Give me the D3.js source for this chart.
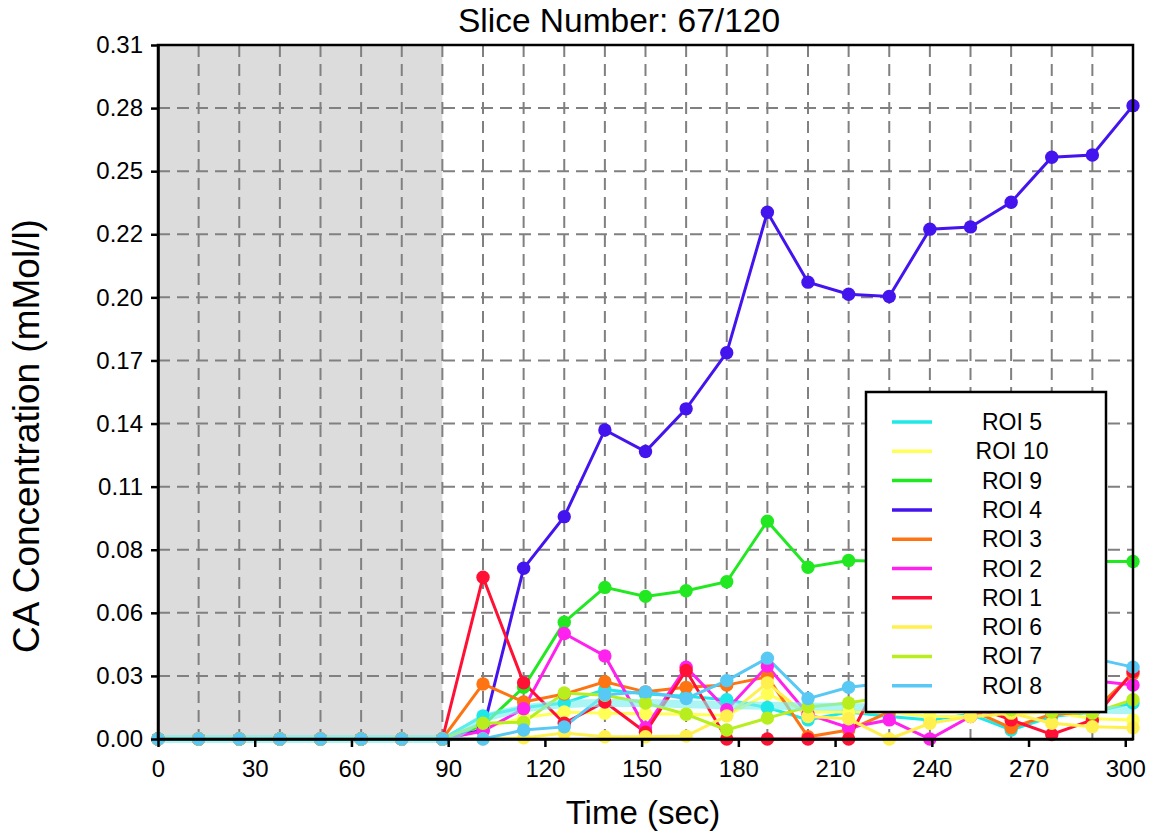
<!DOCTYPE html>
<html>
<head>
<meta charset="utf-8">
<script src="https://cdn.jsdelivr.net/npm/d3@7"></script>
<style>
  body { margin: 0; background: #fff; }
  svg { display: block; font-family: "Liberation Sans", Arial, Helvetica, sans-serif; }
  .axis path, .axis line { stroke: #000; stroke-width: 2.5; }
  .axis text { fill: #000; font-size: 24px; }
  .grid line { stroke: #808080; stroke-width: 2; stroke-dasharray: 12,7; }
</style>
</head>
<body>
<svg id="chart" width="1152" height="834"></svg>
<script>
// acquisition times (sec), one per dynamic frame
var times = [0, 12.6, 25.2, 37.8, 50.4, 63, 75.6, 88.2, 100.8, 113.4, 126, 138.6, 151.2,
             163.8, 176.4, 189, 201.6, 214.2, 226.8, 239.4, 252, 264.6, 277.2, 289.8, 302.4];
var xTicks = [0, 30, 60, 90, 120, 150, 180, 210, 240, 270, 300];
var yMax = 0.309;
var baselineEnd = 88.2;   // end of the pre-contrast (grey) period

// concentration curves, mMol/l
var roi5  = [0,0,0,0,0,0,0,0, 0.0103, 0.014, 0.016, 0.022, 0.020, 0.019, 0.0175, 0.014, 0.0085, 0.012, 0.010, 0.0085, 0.011, 0.004, 0.010, 0.012, 0.016];
var roi10 = [0,0,0,0,0,0,0,0, 0.005, 0.0094, 0.012, 0.0115, 0.0112, 0.011, 0.0105, 0.020, 0.012, 0.012, 0.012, 0.010, 0.010, 0.011, 0.012, 0.009, 0.0085];
var roi9  = [0,0,0,0,0,0,0,0, 0.006, 0.023, 0.052, 0.0675, 0.0635, 0.066, 0.070, 0.097, 0.0765, 0.0795, 0.079, 0.078, 0.080, 0.079, 0.078, 0.079, 0.079];
var roi4  = [0,0,0,0,0,0,0,0, 0.004, 0.076, 0.099, 0.1376, 0.128, 0.147, 0.172, 0.2345, 0.2034, 0.198, 0.197, 0.227, 0.228, 0.239, 0.259, 0.260, 0.282];
var roi3  = [0,0,0,0,0,0,0,0, 0.0245, 0.0165, 0.020, 0.0255, 0.021, 0.023, 0.024, 0.0277, 0.001, 0.004, 0.012, 0.015, 0.013, 0.005, 0.011, 0.012, 0.029];
var roi2  = [0,0,0,0,0,0,0,0, 0.0035, 0.0135, 0.047, 0.037, 0.005, 0.032, 0.013, 0.0325, 0.011, 0.005, 0.0085, 0, 0.010, 0.012, 0.020, 0.026, 0.024];
var roi1  = [0,0,0,0,0,0,0,0, 0.072, 0.025, 0.007, 0.0165, 0.003, 0.0305, 0, 0, 0, 0, 0.035, 0.022, 0.015, 0.0085, 0.002, 0.0085, 0.030];
var roi6  = [0,0,0,0,0,0,0,0, 0, 0.0005, 0.0027, 0.001, 0.001, 0.0013, 0.0103, 0.025, 0.010, 0.009, 0, 0.007, 0.010, 0.0115, 0.007, 0.0055, 0.005];
var roi7  = [0,0,0,0,0,0,0,0, 0.007, 0.0075, 0.0205, 0.0195, 0.016, 0.011, 0.004, 0.0093, 0.0143, 0.016, 0.019, 0.016, 0.015, 0.013, 0.012, 0.0115, 0.0175];
var roi8  = [0,0,0,0,0,0,0,0, 0, 0.004, 0.0054, 0.0197, 0.021, 0.018, 0.026, 0.036, 0.018, 0.023, 0.025, 0.027, 0.030, 0.030, 0.035, 0.036, 0.032];
// broad translucent average curve
var meanCurve = [0,0,0,0,0,0,0,0, 0.009, 0.0135, 0.0155, 0.016, 0.016, 0.0155, 0.015, 0.0148, 0.0145, 0.0143, 0.014, 0.014, 0.0138, 0.0135, 0.0133, 0.013, 0.0128];

var seriesNames  = ["ROI 5", "ROI 10", "ROI 9", "ROI 4", "ROI 3", "ROI 2", "ROI 1", "ROI 6", "ROI 7", "ROI 8"];
var seriesValues = [roi5, roi10, roi9, roi4, roi3, roi2, roi1, roi6, roi7, roi8];
var seriesColors = ["#1ee8e8", "#ffff55", "#22e822", "#4414ee", "#ff7412", "#ff22ee", "#ff1034", "#fff04e", "#b8ee1e", "#58c8f4"];

var svg = d3.select("#chart");
var plotLeft = 158, plotTop = 45, plotRight = 1133, plotBottom = 739;

var x = d3.scaleLinear().domain([0, times[times.length - 1]]).range([plotLeft, plotRight]);
var y = d3.scaleLinear().domain([0, yMax]).range([plotBottom, plotTop]);
var yTicks = d3.range(12).map(function (k) { return k * yMax / 11; });

// grey pre-contrast region
svg.append("rect")
    .attr("x", x(0)).attr("y", y(yMax))
    .attr("width", x(baselineEnd) - x(0)).attr("height", y(0) - y(yMax))
    .attr("fill", "#dcdcdc");

// dashed grid: one vertical per frame, one horizontal per y tick
var grid = svg.append("g").attr("class", "grid");
grid.selectAll(".vg").data(times.slice(1, times.length - 1)).enter().append("line")
    .attr("x1", function (d) { return x(d); }).attr("x2", function (d) { return x(d); })
    .attr("y1", y(yMax)).attr("y2", y(0));
grid.selectAll(".hg").data(yTicks.slice(1)).enter().append("line")
    .attr("x1", x(0)).attr("x2", plotRight)
    .attr("y1", function (d) { return y(d); }).attr("y2", function (d) { return y(d); });

var line = d3.line()
    .x(function (d, i) { return x(times[i]); })
    .y(function (d) { return y(d); });

seriesValues.forEach(function (vals, s) {
    svg.append("path").datum(vals)
        .attr("d", line)
        .attr("fill", "none")
        .attr("stroke", seriesColors[s])
        .attr("stroke-width", 3);
});

svg.append("path").datum(meanCurve)
    .attr("d", d3.line().curve(d3.curveMonotoneX)
        .x(function (d, i) { return x(times[i]); })
        .y(function (d) { return y(d); }))
    .attr("fill", "none")
    .attr("stroke", "#7ef0ee")
    .attr("stroke-opacity", 0.65)
    .attr("stroke-width", 8);

seriesValues.forEach(function (vals, s) {
    svg.append("g").selectAll("circle").data(vals).enter().append("circle")
        .attr("cx", function (d, i) { return x(times[i]); })
        .attr("cy", function (d) { return y(d); })
        .attr("r", 6.7)
        .attr("fill", seriesColors[s]);
});

// frame
svg.append("rect")
    .attr("x", plotLeft).attr("y", plotTop)
    .attr("width", plotRight - plotLeft).attr("height", plotBottom - plotTop)
    .attr("fill", "none").attr("stroke", "#000").attr("stroke-width", 2.5);

svg.append("g").attr("class", "axis")
    .attr("transform", "translate(0," + plotBottom + ")")
    .call(d3.axisBottom(x).tickValues(xTicks).tickSize(8).tickPadding(13).tickSizeOuter(0));

svg.append("g").attr("class", "axis")
    .attr("transform", "translate(" + plotLeft + ",0)")
    .call(d3.axisLeft(y).tickValues(yTicks).tickFormat(d3.format(".2f")).tickSize(7).tickPadding(8).tickSizeOuter(0));

svg.append("text")
    .attr("x", 619).attr("y", 32)
    .attr("text-anchor", "middle")
    .style("font-size", "33.5px")
    .text("Slice Number: 67/120");

svg.append("text")
    .attr("x", 643).attr("y", 824)
    .attr("text-anchor", "middle")
    .style("font-size", "33px")
    .text("Time (sec)");

svg.append("text")
    .attr("transform", "translate(39,436) rotate(-90)")
    .attr("text-anchor", "middle")
    .style("font-size", "37px")
    .text("CA Concentration (mMol/l)");

// legend
var legend = svg.append("g").attr("transform", "translate(866,392)");
legend.append("rect")
    .attr("width", 240).attr("height", 320)
    .attr("fill", "#fff").attr("stroke", "#000").attr("stroke-width", 2.5);
var item = legend.selectAll(".item").data(seriesNames).enter().append("g")
    .attr("transform", function (d, i) { return "translate(0," + (30 + i * 29.3) + ")"; });
item.append("line")
    .attr("x1", 26).attr("x2", 66)
    .attr("stroke", function (d, i) { return seriesColors[i]; })
    .attr("stroke-width", 3.5);
item.append("text")
    .attr("x", 146).attr("dy", "0.35em")
    .attr("text-anchor", "middle")
    .style("font-size", "23px")
    .text(function (d) { return d; });
</script>
</body>
</html>
